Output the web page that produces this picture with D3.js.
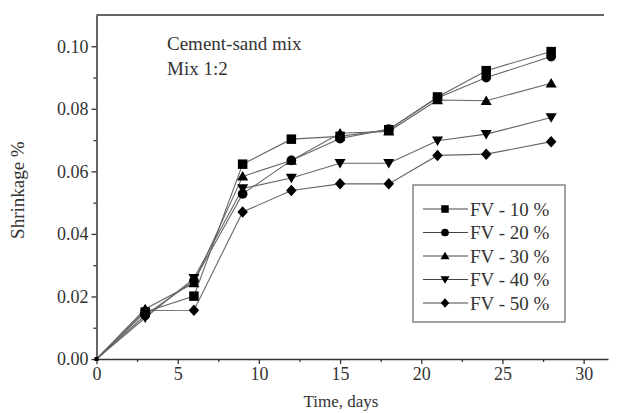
<!DOCTYPE html>
<html>
<head>
<meta charset="utf-8">
<script src="https://cdn.jsdelivr.net/npm/d3@7"></script>
<style>
  body { margin: 0; background: #fff; }
  svg { display: block; font-family: 'Liberation Serif', 'Times New Roman', serif; }
</style>
</head>
<body>
<div id="chart"></div>
<script>
// time in days
const days = [0, 3, 6, 9, 12, 15, 18, 21, 24, 28];

const fv10 = [0, 0.0150, 0.0201, 0.0623, 0.0703, 0.0712, 0.0733, 0.0838, 0.0922, 0.0983];
const fv20 = [0, 0.0140, 0.0250, 0.0528, 0.0635, 0.0705, 0.0735, 0.0835, 0.0900, 0.0967];
const fv30 = [0, 0.0160, 0.0243, 0.0584, 0.0635, 0.0722, 0.0728, 0.0828, 0.0826, 0.0882];
const fv40 = [0, 0.0132, 0.0258, 0.0545, 0.0579, 0.0626, 0.0626, 0.0698, 0.0719, 0.0772];
const fv50 = [0, 0.0155, 0.0156, 0.0470, 0.0539, 0.0560, 0.0560, 0.0651, 0.0655, 0.0695];

const seriesNames = ['FV - 10 %', 'FV - 20 %', 'FV - 30 %', 'FV - 40 %', 'FV - 50 %'];
const seriesShapes = ['square', 'circle', 'up', 'down', 'diamond'];
const xTicks = [0, 5, 10, 15, 20, 25, 30];
const yTicks = [0, 0.02, 0.04, 0.06, 0.08, 0.10];

const allSeries = [fv10, fv20, fv30, fv40, fv50];

const width = 619;
const height = 413;
const margin = { top: 15, right: 11, bottom: 54, left: 96.5 };

const svg = d3.select('#chart').append('svg')
  .attr('width', width)
  .attr('height', height);

const x = d3.scaleLinear()
  .domain([0, 31.5])
  .range([margin.left, width - margin.right]);
const y = d3.scaleLinear()
  .domain([0, 0.11])
  .range([height - margin.bottom, margin.top]);

const textColor = '#333';

// frame: top border (right side is cut off in the original)
svg.append('line')
  .attr('x1', x(0)).attr('x2', 604)
  .attr('y1', y(0.11)).attr('y2', y(0.11))
  .attr('stroke', '#333').attr('stroke-width', 1.5);

// x axis
svg.append('g')
  .attr('transform', `translate(0, ${y(0)})`)
  .call(d3.axisBottom(x).tickValues(xTicks).tickSize(5).tickSizeOuter(0).tickPadding(3).tickFormat(d3.format('d')));
svg.append('g')
  .attr('transform', `translate(0, ${y(0)})`)
  .call(d3.axisBottom(x).tickValues(d3.range(2.5, 31, 5)).tickSize(3).tickSizeOuter(0).tickFormat(''))
  .select('.domain').remove();

// y axis
svg.append('g')
  .attr('transform', `translate(${x(0)}, 0)`)
  .call(d3.axisLeft(y).tickValues(yTicks).tickSize(5).tickSizeOuter(0).tickPadding(3).tickFormat(d3.format('.2f')));
svg.append('g')
  .attr('transform', `translate(${x(0)}, 0)`)
  .call(d3.axisLeft(y).tickValues([0.01, 0.03, 0.05, 0.07, 0.09]).tickSize(3).tickSizeOuter(0).tickFormat(''))
  .select('.domain').remove();

svg.selectAll('.domain').attr('stroke', '#333').attr('stroke-width', 1.5);
svg.selectAll('.tick line').attr('stroke', '#333').attr('stroke-width', 1.3);
svg.selectAll('.tick text')
  .attr('font-size', 18)
  .attr('fill', textColor)
  .style('font-family', "'Liberation Serif', serif");

// axis titles
svg.append('text')
  .attr('x', 341)
  .attr('y', 407)
  .attr('text-anchor', 'middle')
  .attr('font-size', 17)
  .attr('fill', textColor)
  .text('Time, days');

svg.append('text')
  .attr('transform', `translate(24, ${y(0.054)}) rotate(-90)`)
  .attr('text-anchor', 'middle')
  .attr('font-size', 19)
  .attr('fill', textColor)
  .text('Shrinkage %');

// annotation
svg.append('text')
  .attr('x', 167).attr('y', 50)
  .attr('font-size', 19)
  .attr('fill', textColor)
  .text('Cement-sand mix');
svg.append('text')
  .attr('x', 167).attr('y', 75)
  .attr('font-size', 19)
  .attr('fill', textColor)
  .text('Mix 1:2');

// marker paths
const markerPath = (shape, s) => {
  const h = s / 2;
  if (shape === 'square') return `M${-h},${-h}H${h}V${h}H${-h}Z`;
  if (shape === 'circle') return d3.symbol().type(d3.symbolCircle).size(Math.PI * h * h * 1.05)();
  if (shape === 'up') return `M0,${-h - 0.5}L${h + 0.8},${h - 0.5}L${-h - 0.8},${h - 0.5}Z`;
  if (shape === 'down') return `M0,${h + 0.5}L${h + 0.8},${-h + 0.5}L${-h - 0.8},${-h + 0.5}Z`;
  return `M0,${-h - 1}L${h + 0.5},0L0,${h + 1}L${-h - 0.5},0Z`;
};

const line = d3.line()
  .x((d, i) => x(days[i]))
  .y(d => y(d));

allSeries.forEach((vals) => {
  svg.append('path')
    .datum(vals)
    .attr('fill', 'none')
    .attr('stroke', '#666')
    .attr('stroke-width', 1.1)
    .attr('d', line);
});

allSeries.forEach((vals, k) => {
  svg.append('g')
    .selectAll('path')
    .data(vals.slice(1))
    .join('path')
    .attr('transform', (d, i) => `translate(${x(days[i + 1])}, ${y(d)})`)
    .attr('d', markerPath(seriesShapes[k], 9.5))
    .attr('fill', '#000');
});

// origin point
svg.append('rect')
  .attr('x', x(0) - 2).attr('y', y(0) - 2)
  .attr('width', 4).attr('height', 4)
  .attr('fill', '#000');

// legend
const legend = svg.append('g').attr('transform', 'translate(413, 185)');
legend.append('rect')
  .attr('width', 152).attr('height', 137)
  .attr('fill', '#fff')
  .attr('stroke', '#666').attr('stroke-width', 1.2);

seriesNames.forEach((name, k) => {
  const g = legend.append('g').attr('transform', `translate(0, ${24 + k * 23.5})`);
  g.append('line')
    .attr('x1', 10).attr('x2', 55)
    .attr('stroke', '#444').attr('stroke-width', 1.2);
  g.append('path')
    .attr('transform', 'translate(32, 0)')
    .attr('d', markerPath(seriesShapes[k], 7.5))
    .attr('fill', '#000');
  g.append('text')
    .attr('x', 57).attr('y', 6.5)
    .attr('font-size', 19)
    .attr('fill', textColor)
    .text(name);
});
</script>
</body>
</html>
